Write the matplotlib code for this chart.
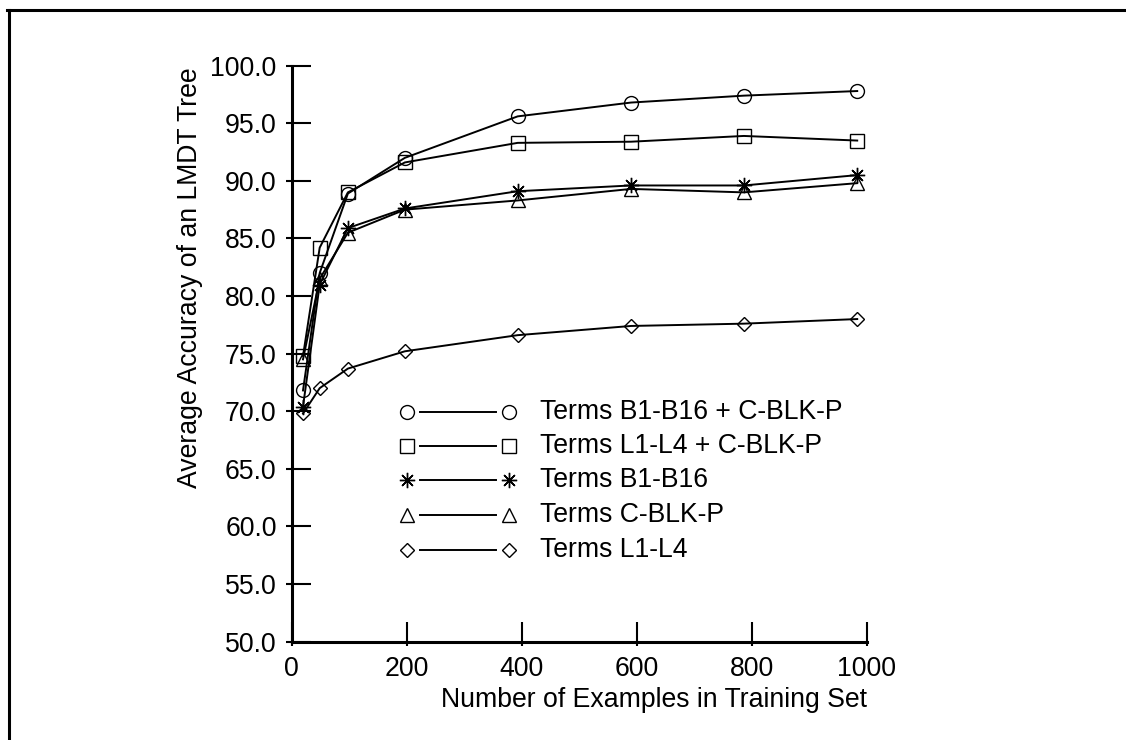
import matplotlib
matplotlib.use("Agg")
import matplotlib.pyplot as plt
from matplotlib.lines import Line2D
from matplotlib.ticker import FixedLocator, FormatStrFormatter, NullFormatter

plt.rcParams['font.family'] = ['Liberation Sans', 'DejaVu Sans']

# Training set sizes (fractions of a 983-example pool)
train_sizes = [20, 49, 98, 197, 393, 590, 786, 983]

series_labels = [
    "Terms B1-B16 + C-BLK-P",
    "Terms L1-L4 + C-BLK-P",
    "Terms B1-B16",
    "Terms C-BLK-P",
    "Terms L1-L4",
]
acc_b_cblkp = [71.8, 82.0, 88.9, 92.0, 95.6, 96.8, 97.4, 97.8]
acc_l_cblkp = [74.8, 84.2, 89.0, 91.6, 93.3, 93.4, 93.9, 93.5]
acc_b = [70.4, 81.0, 85.9, 87.6, 89.1, 89.6, 89.6, 90.5]
acc_cblkp = [74.5, 81.5, 85.5, 87.5, 88.3, 89.3, 89.0, 89.8]
acc_l = [69.8, 72.0, 73.7, 75.2, 76.6, 77.4, 77.6, 78.0]
series_values = [acc_b_cblkp, acc_l_cblkp, acc_b, acc_cblkp, acc_l]
series_markers = ["o", "s", (8, 2, 0), "^", "D"]
marker_sizes = [10, 10, 11, 10, 7.5]

x_ticks = [0, 200, 400, 600, 800, 1000]
y_ticks = [50.0, 55.0, 60.0, 65.0, 70.0, 75.0, 80.0, 85.0, 90.0, 95.0, 100.0]

FS = 19.2
W, H = 1126, 740
fig = plt.figure(figsize=(W / 100, H / 100), dpi=100)
ax = fig.add_axes([291.5 / W, 1 - 641.5 / H, (867 - 291.5) / W, (641.5 - 65.7) / H])

for vals, mk, ms in zip(series_values, series_markers, marker_sizes):
    ax.plot(train_sizes, vals, color="black", lw=1.4, marker=mk, ms=ms,
            mfc="none", mec="black", mew=1.0, clip_on=False, zorder=3)

ax.set_xlim(0, 1000)
ax.set_ylim(50, 100)
for side in ("top", "right"):
    ax.spines[side].set_visible(False)
for side in ("left", "bottom"):
    ax.spines[side].set_linewidth(2.2)

ax.xaxis.set_major_locator(FixedLocator(x_ticks))
ax.yaxis.set_major_locator(FixedLocator(y_ticks))
ax.xaxis.set_minor_locator(FixedLocator(x_ticks))
ax.yaxis.set_minor_locator(FixedLocator(y_ticks))
ax.xaxis.remove_overlapping_locs = False
ax.yaxis.remove_overlapping_locs = False
ax.xaxis.set_minor_formatter(NullFormatter())
ax.yaxis.set_minor_formatter(NullFormatter())
ax.yaxis.set_major_formatter(FormatStrFormatter("%.1f"))

ax.tick_params(axis="y", which="major", direction="in", length=13.7, width=1.5,
               labelsize=FS, pad=10.7)
ax.tick_params(axis="y", which="minor", direction="out", length=4.3, width=1.5)
ax.tick_params(axis="x", which="major", direction="in", length=14.4, width=1.5,
               labelsize=FS, pad=10.5)
ax.tick_params(axis="x", which="minor", direction="out", length=3.0, width=1.5)

# Axis titles
fig.text(190 / W, 1 - 278 / H, "Average Accuracy of an LMDT Tree", rotation=90,
         ha="center", va="center", fontsize=FS)
fig.text(867 / W, 1 - 700 / H, "Number of Examples in Training Set",
         ha="right", va="center", fontsize=FS)

# Legend: marker, line, marker, label
row_y = [411.7, 445.7, 480.0, 515.0, 550.0]
for yy, lab, mk, ms in zip(row_y, series_labels, series_markers, marker_sizes):
    fy = 1 - yy / H
    fig.add_artist(Line2D([420 / W, 496 / W], [fy, fy], color="black", lw=1.4,
                          transform=fig.transFigure))
    for mx in (406.7, 509.0):
        fig.add_artist(Line2D([mx / W], [fy], marker=mk, ms=ms, mfc="none",
                              mec="black", mew=1.0, lw=0, transform=fig.transFigure))
    fig.text(540 / W, fy, lab, ha="left", va="center", fontsize=FS)

# Border on top and left
fig.add_artist(Line2D([7 / W, 1.0], [1 - 9.5 / H, 1 - 9.5 / H], color="black",
                      lw=2.2, transform=fig.transFigure, solid_capstyle="projecting"))
fig.add_artist(Line2D([8.5 / W, 8.5 / W], [1 - 9.5 / H, 0.0], color="black",
                      lw=2.2, transform=fig.transFigure, solid_capstyle="projecting"))

fig.savefig("out.png", dpi=100, facecolor="white")
